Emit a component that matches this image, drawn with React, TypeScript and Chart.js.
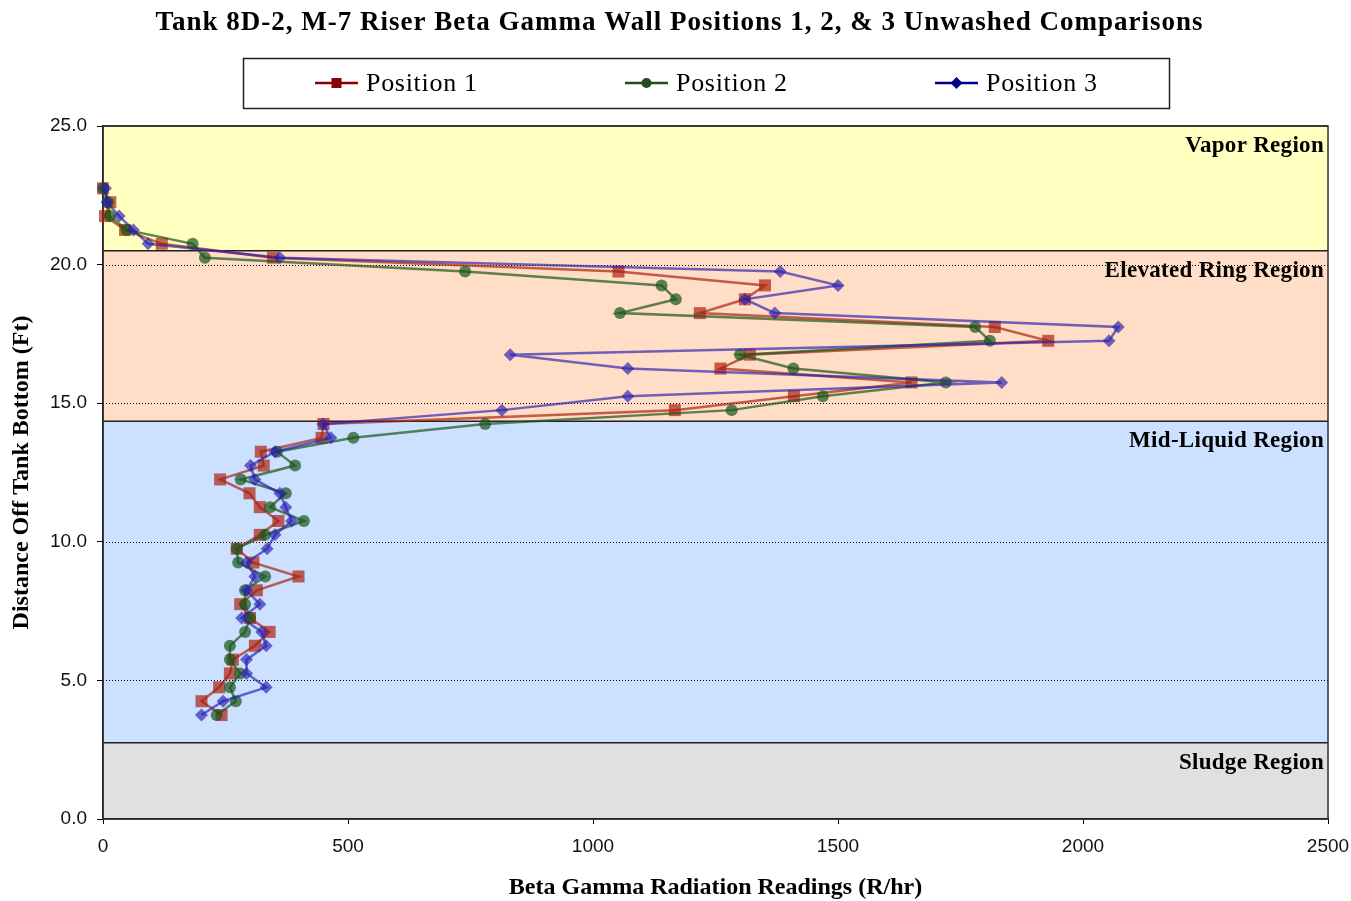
import React, { useEffect, useRef } from 'react';
import { Chart, registerables } from 'chart.js';

Chart.register(...registerables);

// ---------- data ----------
const depthsFt = [22.75, 22.25, 21.75, 21.25, 20.75, 20.25, 19.75, 19.25, 18.75, 18.25, 17.75, 17.25, 16.75, 16.25, 15.75, 15.25, 14.75, 14.25, 13.75, 13.25, 12.75, 12.25, 11.75, 11.25, 10.75, 10.25, 9.75, 9.25, 8.75, 8.25, 7.75, 7.25, 6.75, 6.25, 5.75, 5.25, 4.75, 4.25, 3.75];
const position1 = [0, 15, 4, 45, 120, 347, 1052, 1351, 1310, 1218, 1820, 1929, 1320, 1260, 1650, 1410, 1167, 450, 446, 322, 328, 239, 299, 320, 358, 320, 273, 307, 399, 314, 280, 300, 340, 310, 265, 259, 237, 201, 242];
const position2 = [0, 10, 14, 48, 183, 208, 739, 1140, 1169, 1055, 1780, 1810, 1300, 1409, 1720, 1469, 1283, 780, 511, 355, 392, 281, 373, 341, 410, 331, 273, 276, 331, 290, 290, 300, 290, 259, 259, 280, 259, 271, 232];
const position3 = [5, 8, 33, 62, 92, 361, 1382, 1500, 1310, 1371, 2072, 2053, 831, 1071, 1834, 1071, 814, 449, 465, 351, 301, 310, 361, 373, 385, 351, 335, 293, 310, 293, 320, 283, 324, 333, 293, 293, 333, 245, 201];
const seriesNames = ['Position 1', 'Position 2', 'Position 3'];

const xTickValues = [0, 500, 1000, 1500, 2000, 2500];
const yTickValues = [0, 5, 10, 15, 20, 25];

const regionNames = ['Vapor Region', 'Elevated Ring Region', 'Mid-Liquid Region', 'Sludge Region'];
const regionTopsFt = [25, 20.5, 14.35, 2.75];
const regionBottomsFt = [20.5, 14.35, 2.75, 0];

const chartTitle = 'Tank 8D-2, M-7 Riser Beta Gamma Wall Positions 1, 2, & 3 Unwashed Comparisons';
const xAxisTitle = 'Beta Gamma Radiation Readings (R/hr)';
const yAxisTitle = 'Distance Off Tank Bottom (Ft)';

// ---------- styles ----------
const SERIF = '"Liberation Serif", "Times New Roman", serif';
const SANS = '"Liberation Sans", Arial, sans-serif';
const regionFills = ['#FFFFC0', '#FFDDC6', '#CCE0FF', '#E0E0E0'];
const lineColors = ['rgba(170,30,10,0.68)', 'rgba(25,85,25,0.70)', 'rgba(40,30,175,0.66)'];
const legendColors = ['#8B0000', '#1E4D1E', '#00008B'];
const pointStyles = ['rect', 'circle', 'rectRot'];
const pointRadii = [8.5, 6, 6.5];

function toPoints(values: number[]) {
  return values.map((v, i) => ({ x: v, y: depthsFt[i] }));
}

function drawMarker(ctx: CanvasRenderingContext2D, style: string, x: number, y: number, color: string) {
  ctx.fillStyle = color;
  ctx.beginPath();
  if (style === 'rect') {
    ctx.rect(x - 5, y - 5, 10, 10);
  } else if (style === 'circle') {
    ctx.arc(x, y, 5, 0, Math.PI * 2);
  } else {
    ctx.moveTo(x - 6, y);
    ctx.lineTo(x, y - 6);
    ctx.lineTo(x + 6, y);
    ctx.lineTo(x, y + 6);
    ctx.closePath();
  }
  ctx.fill();
}

const decorPlugin = {
  id: 'decor',
  beforeDraw(chart: any) {
    const { ctx, chartArea, scales } = chart;
    const y = scales.y;
    ctx.save();
    ctx.fillStyle = '#ffffff';
    ctx.fillRect(0, 0, chart.width, chart.height);
    regionNames.forEach((_, i) => {
      const top = y.getPixelForValue(regionTopsFt[i]);
      const bottom = y.getPixelForValue(regionBottomsFt[i]);
      ctx.fillStyle = regionFills[i];
      ctx.fillRect(chartArea.left, top, chartArea.right - chartArea.left, bottom - top);
    });
    ctx.restore();
  },
  beforeDatasetsDraw(chart: any) {
    const { ctx, chartArea, scales } = chart;
    const y = scales.y;
    ctx.save();
    // dotted gridlines
    ctx.strokeStyle = '#000000';
    ctx.lineWidth = 1;
    ctx.setLineDash([1, 2]);
    yTickValues.forEach((v) => {
      if (v <= 0 || v >= 25) return;
      const py = Math.round(y.getPixelForValue(v)) + 0.5;
      ctx.beginPath();
      ctx.moveTo(chartArea.left, py);
      ctx.lineTo(chartArea.right, py);
      ctx.stroke();
    });
    ctx.setLineDash([]);
    // region boundaries
    ctx.strokeStyle = '#202020';
    ctx.lineWidth = 1.5;
    regionNames.forEach((_, i) => {
      const top = y.getPixelForValue(regionTopsFt[i]);
      ctx.beginPath();
      ctx.moveTo(chartArea.left, top);
      ctx.lineTo(chartArea.right, top);
      ctx.stroke();
    });
    // plot frame
    ctx.strokeStyle = '#303030';
    ctx.lineWidth = 1.5;
    ctx.strokeRect(chartArea.left, chartArea.top, chartArea.right - chartArea.left, chartArea.bottom - chartArea.top);
    // region labels
    ctx.fillStyle = '#000000';
    ctx.font = 'bold 23px ' + SERIF;
    (ctx as any).letterSpacing = '0.3px';
    ctx.textAlign = 'right';
    ctx.textBaseline = 'middle';
    regionNames.forEach((name, i) => {
      const top = y.getPixelForValue(regionTopsFt[i]);
      ctx.fillText(name, chartArea.right - 4, top + 20);
    });
    ctx.restore();
  },
  afterDraw(chart: any) {
    const { ctx } = chart;
    ctx.save();
    // title
    ctx.fillStyle = '#000000';
    ctx.font = 'bold 27px ' + SERIF;
    (ctx as any).letterSpacing = '1px';
    ctx.textAlign = 'center';
    ctx.textBaseline = 'middle';
    ctx.fillText(chartTitle, chart.width / 2 + 4, 23);
    // legend box
    ctx.fillStyle = '#ffffff';
    ctx.fillRect(243, 58, 926, 50);
    ctx.strokeStyle = '#202020';
    ctx.lineWidth = 1.5;
    ctx.strokeRect(243.5, 58.5, 926, 50);
    const starts = [315, 625, 935];
    seriesNames.forEach((name, i) => {
      const x0 = starts[i];
      const ly = 83;
      ctx.strokeStyle = legendColors[i];
      ctx.lineWidth = 2.5;
      ctx.beginPath();
      ctx.moveTo(x0, ly);
      ctx.lineTo(x0 + 43, ly);
      ctx.stroke();
      drawMarker(ctx, pointStyles[i], x0 + 21.5, ly, legendColors[i]);
      ctx.fillStyle = '#000000';
      ctx.font = '26px ' + SERIF;
      (ctx as any).letterSpacing = '0.7px';
      ctx.textAlign = 'left';
      ctx.textBaseline = 'middle';
      ctx.fillText(name, x0 + 51, ly + 1);
    });
    ctx.restore();
  },
};

export default function App() {
  const canvasRef = useRef<HTMLCanvasElement | null>(null);

  useEffect(() => {
    const canvas = canvasRef.current;
    if (!canvas) return;
    const seriesValues = [position1, position2, position3];
    const chart = new Chart(canvas, {
      type: 'scatter',
      data: {
        datasets: seriesValues.map((vals, i) => ({
          label: seriesNames[i],
          data: toPoints(vals),
          showLine: true,
          borderColor: lineColors[i],
          backgroundColor: lineColors[i],
          borderWidth: 2.5,
          pointStyle: pointStyles[i] as any,
          pointRadius: pointRadii[i],
          pointBorderWidth: 0,
          pointBackgroundColor: lineColors[i],
          tension: 0,
          clip: false as any,
          order: 2 - i,
        })),
      },
      options: {
        animation: false,
        responsive: false,
        devicePixelRatio: 1,
        layout: { padding: { top: 126, right: 23, bottom: 0, left: 0 } },
        plugins: {
          legend: { display: false },
          tooltip: { enabled: false },
          title: { display: false },
        },
        scales: {
          x: {
            type: 'linear',
            min: 0,
            max: 2500,
            afterFit: (s: any) => { s.height = 82; s.paddingLeft = 0; s.paddingRight = 0; },
            afterBuildTicks: (s: any) => { s.ticks = xTickValues.map((v) => ({ value: v })); },
            ticks: {
              font: { family: SANS, size: 19 },
              color: '#111111',
              padding: 11,
              maxRotation: 0,
              callback: (v: any) => String(v),
            },
            grid: { drawOnChartArea: false, drawTicks: true, tickLength: 5, color: '#000000' },
            border: { display: true, color: '#000000', width: 1.5 },
            title: {
              display: true,
              text: xAxisTitle,
              font: { family: SERIF, size: 24, weight: 'bold', lineHeight: 1.1 },
              color: '#000000',
              padding: { top: 0, bottom: 0 },
            },
          },
          y: {
            type: 'linear',
            min: 0,
            max: 25,
            afterFit: (s: any) => { s.width = 103; },
            afterBuildTicks: (s: any) => { s.ticks = yTickValues.map((v) => ({ value: v })); },
            ticks: {
              font: { family: SANS, size: 19 },
              color: '#111111',
              padding: 10,
              callback: (v: any) => Number(v).toFixed(1),
            },
            grid: { drawOnChartArea: false, drawTicks: true, tickLength: 6, color: '#000000' },
            border: { display: true, color: '#000000', width: 1.5 },
            title: {
              display: true,
              text: yAxisTitle,
              font: { family: SERIF, size: 24, weight: 'bold', lineHeight: 1.1 },
              color: '#000000',
              padding: { top: 9, bottom: 0 },
            },
          },
        },
      },
      plugins: [decorPlugin],
    });
    return () => chart.destroy();
  }, []);

  return (
    <div style={{ position: 'fixed', left: 0, top: 0, width: 1351, height: 901, background: '#fff' }}>
      <canvas ref={canvasRef} width={1351} height={901} style={{ display: 'block', width: 1351, height: 901 }} />
    </div>
  );
}
